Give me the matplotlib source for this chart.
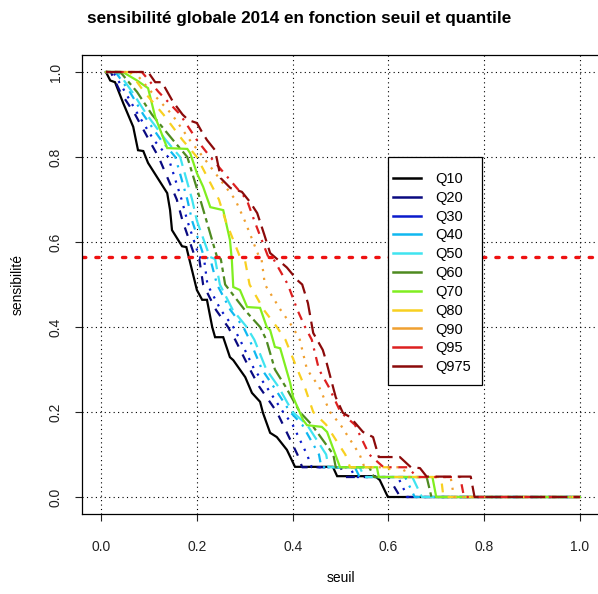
import matplotlib
matplotlib.use("Agg")
import matplotlib.pyplot as plt
from matplotlib.lines import Line2D
from matplotlib.patches import Rectangle

plt.rcParams["font.family"] = ["Liberation Sans", "DejaVu Sans"]

# ── data ──────────────────────────────────────────────────────────────────────
LABELS = ["Q10", "Q20", "Q30", "Q40", "Q50", "Q60", "Q70", "Q80", "Q90", "Q95", "Q975"]

# shared sensitivity levels used for the dashed curves
LEVELS = [1.0, 1.0, 0.953, 0.9, 0.84, 0.8, 0.7, 0.65, 0.565, 0.56, 0.5, 0.44, 0.4,
          0.37, 0.3, 0.26, 0.2, 0.17, 0.1, 0.07, 0.07, 0.047, 0.047, 0.0, 0.0]

Q10_X = [0.01, 0.019, 0.029, 0.046, 0.067, 0.077, 0.088, 0.098, 0.138, 0.144, 0.148, 0.169,
         0.178, 0.200, 0.211, 0.221, 0.232, 0.238, 0.255, 0.269, 0.276, 0.301, 0.315, 0.332,
         0.338, 0.353, 0.367, 0.388, 0.405, 0.484, 0.493, 0.572, 0.582, 0.599, 1.0]
Q10_Y = [1.0, 0.98, 0.976, 0.927, 0.871, 0.816, 0.814, 0.786, 0.715, 0.675, 0.628, 0.59,
         0.588, 0.487, 0.464, 0.464, 0.40, 0.376, 0.376, 0.329, 0.322, 0.282, 0.245, 0.224,
         0.198, 0.151, 0.141, 0.111, 0.071, 0.071, 0.049, 0.049, 0.04, 0.0, 0.0]

Q20_X = [0.01, 0.02, 0.04, 0.071, 0.10, 0.12, 0.158, 0.17, 0.196, 0.205, 0.213, 0.24, 0.265,
         0.28, 0.311, 0.33, 0.367, 0.38, 0.41, 0.42, 0.50, 0.51, 0.60, 0.625, 1.0]
Q30_X = [0.01, 0.025, 0.05, 0.077, 0.11, 0.14, 0.168, 0.18, 0.205, 0.215, 0.222, 0.25, 0.276,
         0.29, 0.32, 0.345, 0.38, 0.40, 0.43, 0.44, 0.52, 0.53, 0.62, 0.64, 1.0]
Q40_X = [0.01, 0.03, 0.06, 0.088, 0.125, 0.155, 0.18, 0.19, 0.215, 0.228, 0.242, 0.27, 0.297,
         0.31, 0.336, 0.36, 0.395, 0.42, 0.455, 0.46, 0.53, 0.54, 0.635, 0.655, 1.0]
Q50_X = [0.01, 0.035, 0.065, 0.095, 0.135, 0.165, 0.19, 0.20, 0.227, 0.238, 0.248, 0.275, 0.304,
         0.32, 0.345, 0.37, 0.40, 0.43, 0.47, 0.475, 0.54, 0.55, 0.65, 0.67, 1.0]
Q60_X = [0.01, 0.04, 0.075, 0.106, 0.15, 0.18, 0.207, 0.22, 0.242, 0.25, 0.259, 0.30, 0.332,
         0.345, 0.363, 0.385, 0.415, 0.44, 0.485, 0.49, 0.56, 0.57, 0.68, 0.69, 1.0]

Q70_X = [0.01, 0.045, 0.075, 0.098, 0.113, 0.138, 0.18, 0.186, 0.20, 0.213, 0.228, 0.255,
         0.269, 0.273, 0.276, 0.29, 0.305, 0.332, 0.346, 0.353, 0.363, 0.374, 0.395, 0.401,
         0.422, 0.43, 0.461, 0.472, 0.499, 0.576, 0.58, 0.692, 0.70, 1.0]
Q70_Y = [1.0, 1.0, 0.98, 0.962, 0.894, 0.821, 0.819, 0.809, 0.762, 0.73, 0.682, 0.675,
         0.605, 0.558, 0.494, 0.487, 0.447, 0.445, 0.40, 0.393, 0.353, 0.35, 0.268, 0.235,
         0.181, 0.169, 0.165, 0.153, 0.07, 0.07, 0.047, 0.047, 0.0, 0.0]

Q80_X = [0.01, 0.06, 0.09, 0.13, 0.17, 0.20, 0.246, 0.26, 0.29, 0.30, 0.31, 0.34, 0.367,
         0.385, 0.41, 0.425, 0.443, 0.47, 0.51, 0.52, 0.60, 0.61, 0.71, 0.715, 1.0]
Q90_X = [0.01, 0.07, 0.105, 0.148, 0.185, 0.213, 0.28, 0.30, 0.33, 0.335, 0.342, 0.375, 0.40,
         0.415, 0.43, 0.455, 0.478, 0.50, 0.54, 0.55, 0.63, 0.64, 0.73, 0.737, 1.0]
Q95_X = [0.01, 0.085, 0.12, 0.165, 0.20, 0.228, 0.304, 0.32, 0.349, 0.36, 0.39, 0.41, 0.426,
         0.44, 0.455, 0.475, 0.50, 0.53, 0.56, 0.59, 0.64, 0.66, 0.75, 0.758, 1.0]

Q975_X = [0.01, 0.098, 0.113, 0.127, 0.15, 0.17, 0.182, 0.20, 0.21, 0.221, 0.238, 0.25, 0.27,
          0.294, 0.311, 0.326, 0.34, 0.353, 0.388, 0.41, 0.42, 0.432, 0.443, 0.463, 0.47,
          0.49, 0.505, 0.52, 0.547, 0.568, 0.58, 0.624, 0.647, 0.666, 0.68, 0.772, 0.78, 1.0]
Q975_Y = [1.0, 1.0, 0.976, 0.976, 0.93, 0.90, 0.887, 0.88, 0.86, 0.84, 0.816, 0.75, 0.727,
          0.718, 0.694, 0.668, 0.62, 0.574, 0.54, 0.51, 0.50, 0.456, 0.386, 0.346, 0.32,
          0.235, 0.198, 0.188, 0.153, 0.141, 0.094, 0.094, 0.07, 0.068, 0.048, 0.048, 0.0, 0.0]

SEUIL_REF = 0.565   # red horizontal reference line

CURVES = [
    (Q10_X, Q10_Y), (Q20_X, LEVELS), (Q30_X, LEVELS), (Q40_X, LEVELS), (Q50_X, LEVELS),
    (Q60_X, LEVELS), (Q70_X, Q70_Y), (Q80_X, LEVELS), (Q90_X, LEVELS), (Q95_X, LEVELS),
    (Q975_X, Q975_Y),
]

COLORS = ["#000000", "#0A0A80", "#0A1ACC", "#10B8F0", "#40E4F0", "#4E8A20",
          "#80EE20", "#F8D020", "#F0A030", "#DD2020", "#8B0A0A"]

# R lty 1..6 cycle: solid, dashed, dotted, dotdash, longdash, twodash
R_LTY = [None, (4, 4), (1, 3), (1, 3, 4, 3), (7, 3), (2, 2, 6, 2)]

# ── plot ──────────────────────────────────────────────────────────────────────
fig = plt.figure(figsize=(5.98, 5.94), dpi=100)
ax = fig.add_axes([82 / 598, 80 / 594, 517 / 598, 459 / 594])

for i, ((xs, ys), col) in enumerate(zip(CURVES, COLORS)):
    lty = R_LTY[i % 6]
    line, = ax.plot(xs, ys, color=col, lw=1.6, solid_joinstyle="miter")
    if lty is not None:
        line.set_dashes(lty)

ax.axhline(SEUIL_REF, color="#EE1111", lw=2.4, dashes=(1, 3), dash_capstyle="round")

ax.set_xlim(-0.04, 1.04)
ax.set_ylim(-0.04, 1.04)
ticks = [0.0, 0.2, 0.4, 0.6, 0.8, 1.0]
ax.set_xticks(ticks)
ax.set_yticks(ticks)
ax.set_xticklabels([f"{t:.1f}" for t in ticks])
ax.set_yticklabels([f"{t:.1f}" for t in ticks], rotation=90, va="center")
ax.tick_params(direction="out", length=5, width=0.8, labelsize=10, colors="#222222")
ax.tick_params(axis="x", pad=14)
ax.tick_params(axis="y", pad=9)
for s in ax.spines.values():
    s.set_linewidth(0.9)
ax.grid(True, color="black", lw=0.8, linestyle=(0, (1, 3)))
ax.set_axisbelow(True)

ax.set_xlabel("seuil", fontsize=10)
ax.xaxis.set_label_coords(0.5, -64 / 459)
ax.xaxis.label.set_va("center")
ax.set_ylabel("sensibilité", fontsize=10)
ax.yaxis.set_label_coords(-64 / 517, 0.5)
ax.yaxis.label.set_va("center")

fig.text(0.5, 1 - 19 / 594, "sensibilité globale 2014 en fonction seuil et quantile",
         ha="center", va="center", fontsize=12.3, fontweight="bold")

# legend: R-style box drawn separately, entries without frame
ax.add_patch(Rectangle((0.592, 0.281), 0.182, 0.497, transform=ax.transAxes,
                       facecolor="white", edgecolor="black", lw=0.9, zorder=4))
handles = [Line2D([], [], color=c, lw=1.8) for c in COLORS]
leg = ax.legend(handles, LABELS, loc="upper left", bbox_to_anchor=(0.586, 0.7625),
                fontsize=10.5, frameon=False, handlelength=1.9, handletextpad=1.0,
                labelspacing=0.33, borderpad=0.55, borderaxespad=0)
leg.set_zorder(5)

fig.savefig("out.png", dpi=100)
